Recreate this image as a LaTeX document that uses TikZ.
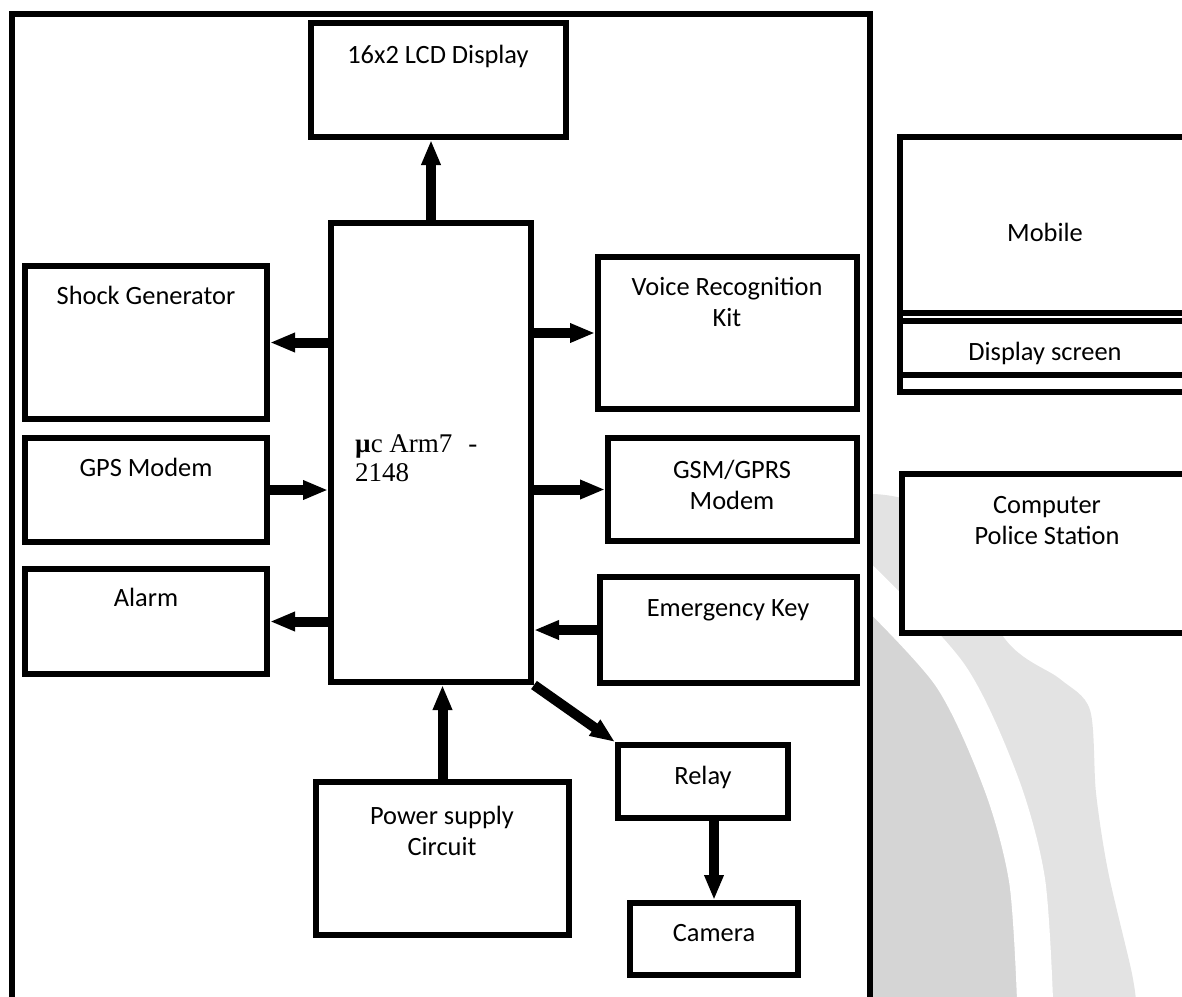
\documentclass[tikz,border=0pt]{standalone}
\usepackage{fontspec}
\setmainfont{Carlito}
\newfontfamily\armfont{Liberation Serif}
\usetikzlibrary{positioning, calc, arrows.meta}
\definecolor{wmLight}{RGB}{227,227,227}
\definecolor{wmDark}{RGB}{213,213,213}

\begin{document}
\begin{tikzpicture}[x=1pt, y=-1pt,
  blk/.style={draw, line width=6pt, fill=white, inner sep=0pt},
  lbl/.style={align=center, inner sep=0pt, font=\fontsize{26.4}{31.5}\selectfont, text height=17pt, text depth=0pt},
  armlbl/.style={align=left, inner sep=0pt, font=\armfont\fontsize{27}{29}\selectfont},
  arr/.style={line width=10pt, -{Triangle[length=25pt, width=18pt]}}]
  \useasboundingbox (0,0) rectangle (1182,996);
  \clip (0,0) rectangle (1182,996);

  \begin{scope}
    \clip (873,0) rectangle (1182,996);
    \fill[wmLight] plot[smooth] coordinates {(873,494) (935,515) (1005,639) (1060,679) (1090,710) (1096,793) (1108,871) (1131,969) (1136,1000)} -- (873,1000) -- cycle;
    \fill[wmDark] plot[smooth] coordinates {(860,578) (950,675) (1001,783) (1027,880) (1035,1000)} -- (873,1000) -- cycle;
    \draw[white, line width=36pt] plot[smooth] coordinates {(860,578) (950,675) (1001,783) (1027,880) (1035,1000)};
  \end{scope}

  \draw[line width=6pt] (12,1010) -- (12,14) -- (870,14) -- (870,1010);

  \node[blk, minimum width=255pt, minimum height=114pt] (lcd) at (438.5,80) {};
  \node[blk, minimum width=200pt, minimum height=459pt] (ctrl) at (431,452.5) {};
  \node[blk, minimum width=242pt, minimum height=153pt] (shock) at (146,342.5) {};
  \node[blk, minimum width=242pt, minimum height=104pt] (gps) at (146,490) {};
  \node[blk, minimum width=242pt, minimum height=105pt] (alarm) at (146,621.5) {};
  \node[blk, minimum width=259pt, minimum height=152pt] (voice) at (727.5,333) {};
  \node[blk, minimum width=249pt, minimum height=103pt] (gsm) at (732.5,489.5) {};
  \node[blk, minimum width=257pt, minimum height=106pt] (emerg) at (728.5,630) {};
  \node[blk, minimum width=170pt, minimum height=73pt] (relay) at (703,781.5) {};
  \node[blk, minimum width=168pt, minimum height=72pt] (camera) at (714,939) {};
  \node[blk, minimum width=253pt, minimum height=153pt] (power) at (442.5,858.5) {};
  \node[blk, minimum width=290pt, minimum height=255pt] (mobout) at (1045,264.5) {};
  \node[blk, minimum width=290pt, minimum height=176pt] (mobile) at (1045,225) {};
  \node[blk, minimum width=290pt, minimum height=54pt] (screen) at (1045,348) {};
  \node[blk, minimum width=288pt, minimum height=159pt] (police) at (1046,553.5) {};

  \draw[arr] (ctrl.north) -- (ctrl.north |- lcd.south);
  \draw[arr] (ctrl.west |- shock.east) -- (shock.east);
  \draw[arr] (gps.east) -- (gps.east -| ctrl.west);
  \draw[arr] (ctrl.west |- alarm.east) -- (alarm.east);
  \draw[arr] (ctrl.east |- voice.west) -- (voice.west);
  \draw[arr] (ctrl.east |- gsm.west) -- (gsm.west);
  \draw[arr] (emerg.west) -- (emerg.west -| ctrl.east);
  \draw[arr] (ctrl.south east) -- (relay.north west);
  \draw[arr] (power.north) -- (power.north |- ctrl.south);
  \draw[arr] (relay.south -| camera.north) -- (camera.north);

  \node[lbl] (lcdt) at (438,55) {16x2 LCD Display};
  \node[armlbl, anchor=base west] (ctrlt) at (355,481) {\textbf{µ}c Arm7\hspace{16pt}-\\2148};
  \node[lbl] (shockt) at (146,296) {Shock Generator};
  \node[lbl] (gpst) at (146,468) {GPS Modem};
  \node[lbl] (alarmt) at (146,598) {Alarm};
  \node[lbl] (voicet) at (727,318) {Voice Recognition\\Kit};
  \node[lbl] (gsmt) at (732,501) {GSM/GPRS\\Modem};
  \node[lbl] (emergt) at (728,608) {Emergency Key};
  \node[lbl] (relayt) at (703,776) {Relay};
  \node[lbl] (camerat) at (714,933) {Camera};
  \node[lbl] (powert) at (442,847) {Power supply\\Circuit};
  \node[lbl] (mobilet) at (1045,233) {Mobile};
  \node[lbl] (screent) at (1045,352) {Display screen};
  \node[lbl] (policet) at (1047,536) {Computer\\Police Station};
\end{tikzpicture}
\end{document}
